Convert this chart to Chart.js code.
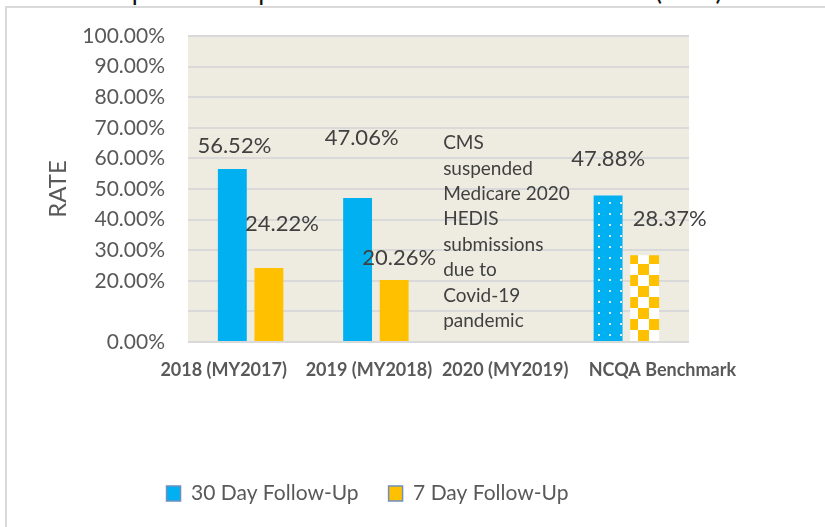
<!DOCTYPE html>
<html>
<head>
<meta charset="utf-8">
<script src="https://cdn.jsdelivr.net/npm/chart.js@4"></script>
<style>
  html, body { margin: 0; padding: 0; background: #fff; overflow: hidden; }
  #wrap { position: relative; width: 825px; height: 527px; }
  #frame { position: absolute; left: 5px; top: 6px; right: -10px; bottom: -10px;
           border-left: 2px solid #d9d9d9; border-top: 2px solid #d9d9d9; }
  .title { position: absolute; top: -26px; font: 26px Lato, sans-serif; color: #111; white-space: nowrap; }
  canvas { position: absolute; left: 0; top: 0; }
</style>
</head>
<body>
<div id="wrap">
  <div class="title" style="left:32px">Follow-up after Hospitalization for Mental Illness</div>
  <div class="title" style="left:655px">(FUH)</div>
  <div id="frame"></div>
  <canvas id="fuh" width="825" height="527"></canvas>
</div>
<script>
// data
const categories = ['2018 (MY2017)', '2019 (MY2018)', '2020 (MY2019)', 'NCQA Benchmark'];
const thirtyDay = [56.52, 47.06, null, 47.88];
const sevenDay = [24.22, 20.26, null, 28.37];
const noteLines = ['CMS', 'suspended', 'Medicare 2020', 'HEDIS', 'submissions', 'due to', 'Covid-19', 'pandemic'];

const BLUE = '#00B0F0';
const GOLD = '#FFC000';

// label nudges (px) from each bar's top centre, the way they sit in the original
const labelNudge = [
    [[2, -23], [4, -60], null, [0, -37]],
    [[13, -44], [5, -22], null, [25, -36]]
];
// category labels are spread a bit wider than the bars
const xLabelNudge = [-27, -7, 4, 36];

// patterned fills for the benchmark bars
function dotPattern() {
    const c = document.createElement('canvas');
    c.width = 11; c.height = 11;
    const g = c.getContext('2d');
    g.fillStyle = BLUE;
    g.fillRect(0, 0, 11, 11);
    g.fillStyle = '#d2f0fc';
    g.fillRect(4, 4, 2, 2);
    return g.createPattern(c, 'repeat');
}
function checkPattern() {
    const c = document.createElement('canvas');
    c.width = 22; c.height = 22;
    const g = c.getContext('2d');
    g.fillStyle = '#fff';
    g.fillRect(0, 0, 22, 22);
    g.fillStyle = GOLD;
    g.fillRect(0, 0, 11, 11);
    g.fillRect(11, 11, 11, 11);
    return g.createPattern(c, 'repeat');
}

const plotBg = {
    id: 'plotBg',
    beforeDraw(chart) {
        const {ctx, chartArea: a} = chart;
        ctx.save();
        ctx.fillStyle = '#EEECE1';
        ctx.fillRect(a.left, a.top, a.right - a.left, a.bottom - a.top);
        ctx.restore();
    }
};

const valueLabels = {
    id: 'valueLabels',
    afterDatasetsDraw(chart) {
        const ctx = chart.ctx;
        const xs = chart.scales.x;
        ctx.save();
        ctx.font = '22px Lato, sans-serif';
        ctx.fillStyle = '#404040';
        ctx.textAlign = 'center';
        ctx.textBaseline = 'middle';
        chart.data.datasets.forEach((ds, i) => {
            chart.getDatasetMeta(i).data.forEach((bar, j) => {
                const v = ds.data[j];
                if (v == null) return;
                const n = labelNudge[i][j] || [0, -15];
                ctx.fillText(v.toFixed(2) + '%', bar.x + n[0], bar.y + n[1]);
            });
        });

        // category labels
        ctx.font = 'bold 18px Lato, sans-serif';
        ctx.fillStyle = '#595959';
        categories.forEach((c, i) => {
            ctx.fillText(c, xs.getPixelForValue(i) + xLabelNudge[i], xs.top + 28);
        });

        // note in the empty 2020 slot
        ctx.font = '19px Lato, sans-serif';
        ctx.fillStyle = '#404040';
        ctx.textAlign = 'left';
        const x = xs.getPixelForValue(2) - 58;
        let y = chart.scales.y.getPixelForValue(65);
        noteLines.forEach(line => {
            ctx.fillText(line, x, y);
            y += 25.4;
        });
        ctx.restore();
    }
};

const nudgeLegend = {
    id: 'nudgeLegend',
    afterLayout(chart) {
        chart.legend.left += 19;
        chart.legend.right += 19;
    }
};

const ctx = document.getElementById('fuh').getContext('2d');
new Chart(ctx, {
    type: 'bar',
    data: {
        labels: categories,
        datasets: [{
            label: '30 Day Follow-Up',
            data: thirtyDay,
            backgroundColor: [BLUE, BLUE, BLUE, dotPattern()],
            categoryPercentage: 0.584,
            barPercentage: 0.79
        }, {
            label: '7 Day Follow-Up',
            data: sevenDay,
            backgroundColor: [GOLD, GOLD, GOLD, checkPattern()],
            categoryPercentage: 0.584,
            barPercentage: 0.79
        }]
    },
    options: {
        responsive: false,
        animation: false,
        layout: { padding: { left: 8, right: 136, top: 36, bottom: 13 } },
        plugins: {
            tooltip: { enabled: false },
            legend: {
                position: 'bottom',
                labels: {
                    font: { family: 'Lato', size: 21 },
                    color: '#595959',
                    boxWidth: 14,
                    boxHeight: 15,
                    padding: 30,
                    generateLabels(chart) {
                        return Chart.defaults.plugins.legend.labels.generateLabels(chart).map(item => {
                            item.strokeStyle = '#6f8fbf';
                            item.lineWidth = 1.5;
                            return item;
                        });
                    }
                }
            }
        },
        scales: {
            x: {
                grid: { display: false },
                border: { display: false },
                ticks: { display: false },
                afterFit(scale) { scale.height = 111; }
            },
            y: {
                min: 0,
                max: 100,
                border: { display: false },
                grid: { color: '#d9d9d9', lineWidth: 2, drawTicks: false },
                ticks: {
                    stepSize: 10,
                    padding: 23,
                    font: { family: 'Lato', size: 21 },
                    color: '#595959',
                    callback: v => v === 10 ? '' : v.toFixed(2) + '%'
                },
                title: {
                    display: true,
                    text: 'RATE',
                    font: { family: 'Lato', size: 24 },
                    color: '#595959',
                    padding: { top: 36, bottom: 0 }
                },
                afterFit(scale) { scale.width = 180; }
            }
        }
    },
    plugins: [plotBg, valueLabels, nudgeLegend]
});
</script>
</body>
</html>
